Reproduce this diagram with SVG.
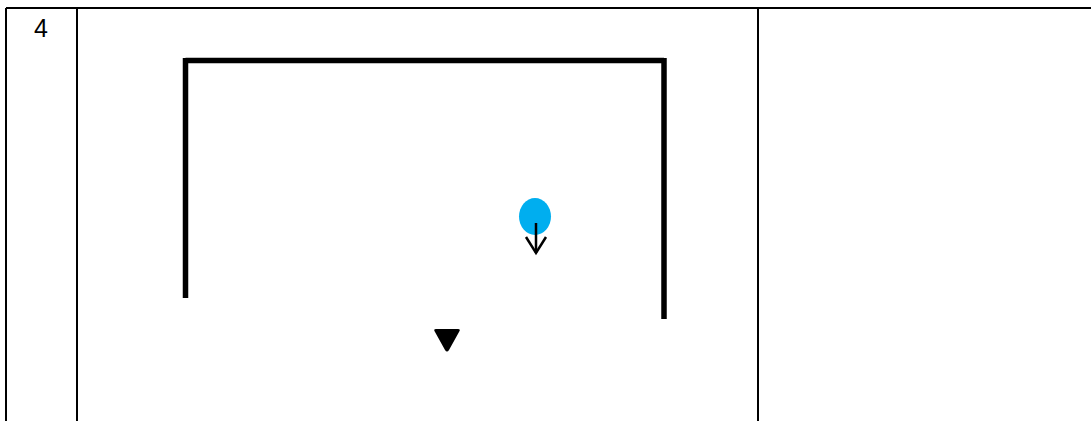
<svg xmlns="http://www.w3.org/2000/svg" width="1091" height="421" viewBox="0 0 1091 421">
<defs>
<style>
.grid{stroke:#000;stroke-width:2;fill:none}
.post{stroke:#000;stroke-width:5.5;fill:none}
.lbl{font-family:"Liberation Sans",Arial,sans-serif;font-size:25px;fill:#000}
</style>
<filter id="soft" x="-20%" y="-20%" width="140%" height="140%"><feGaussianBlur stdDeviation="0.5"/></filter>
</defs>
<rect width="1091" height="421" fill="#fff"/>
<g id="table">
<line class="grid" x1="6" y1="8" x2="1091" y2="8"/>
<line class="grid" x1="6" y1="8" x2="6" y2="421"/>
<line class="grid" x1="77" y1="8" x2="77" y2="421"/>
<line class="grid" x1="758" y1="8" x2="758" y2="421"/>
<text class="lbl" x="41" y="36.5" text-anchor="middle">4</text>
</g>
<g id="goal" filter="url(#soft)">
<line class="post" x1="185.5" y1="60.5" x2="664" y2="60.5"/>
<line class="post" x1="185.5" y1="58" x2="185.5" y2="298"/>
<line class="post" x1="664" y1="58" x2="664" y2="319"/>
</g>
<g id="player">
<ellipse cx="535" cy="216.5" rx="16" ry="18.5" fill="#00AEEF"/>
</g>
<g id="cone">
<path d="M436,329 L458,329 Q461,329 459,332 L449,350 Q447,353 445,350 L435,332 Q433,329 436,329 Z" fill="#000"/>
</g>
<g id="connectors">
<line x1="536" y1="223" x2="536" y2="253" stroke="#000" stroke-width="2.5"/>
<polyline points="526,237 536,253 546,237" fill="none" stroke="#000" stroke-width="2.5"/>
</g>
</svg>
